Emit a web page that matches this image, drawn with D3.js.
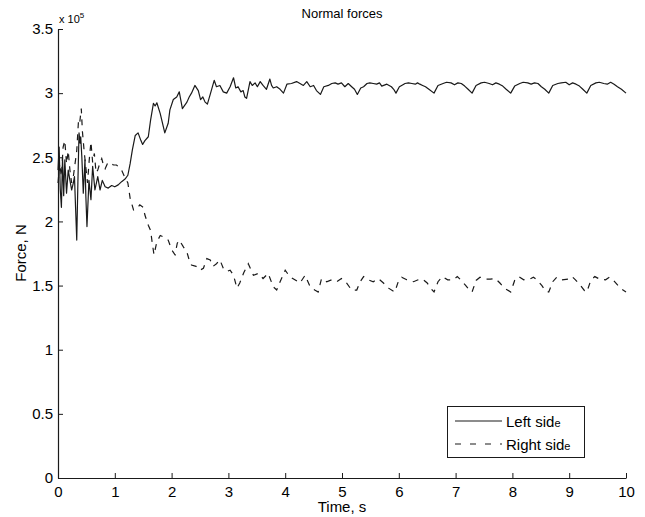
<!DOCTYPE html>
<html>
<head>
<meta charset="utf-8">
<script src="https://cdn.jsdelivr.net/npm/d3@7"></script>
<style>
  html, body { margin: 0; padding: 0; background: #fff; }
  svg { display: block; font-family: "Liberation Sans", Arial, Helvetica, sans-serif; }
</style>
</head>
<body>
<svg id="chart" width="645" height="517"></svg>
<script>
// ---- data (force in units of 1e5 N) ----
const chartTitle = "Normal forces";
const xLabel = "Time, s";
const yLabel = "Force, N";
const seriesNames = ["Left side", "Right side"];
const xTicks = [0, 1, 2, 3, 4, 5, 6, 7, 8, 9, 10];
const yTicks = [0, 0.5, 1, 1.5, 2, 2.5, 3, 3.5];

const leftSide = [
  [0.00,2.40],[0.02,2.58],[0.04,2.25],[0.06,2.11],[0.08,2.50],[0.10,2.20],[0.12,2.48],[0.15,2.22],
  [0.18,2.40],[0.21,2.32],[0.24,2.245],[0.27,2.30],[0.29,2.35],[0.31,2.10],[0.33,1.855],[0.35,2.30],
  [0.37,2.69],[0.39,2.61],[0.40,2.66],[0.42,2.50],[0.445,2.22],[0.475,2.48],[0.49,2.20],[0.51,1.96],
  [0.545,2.32],[0.58,2.17],[0.61,2.43],[0.65,2.245],[0.70,2.35],[0.74,2.245],[0.78,2.32],[0.83,2.27],
  [0.885,2.26],[0.945,2.28],[1.00,2.27],[1.06,2.285],[1.12,2.31],[1.18,2.33],[1.23,2.36],[1.27,2.45],
  [1.31,2.56],[1.36,2.67],[1.41,2.69],[1.46,2.63],[1.49,2.60],[1.53,2.63],[1.59,2.66],[1.63,2.79],
  [1.68,2.92],[1.71,2.90],[1.74,2.925],[1.80,2.84],[1.88,2.69],[1.94,2.765],[1.97,2.87],[2.03,2.95],
  [2.09,2.97],[2.135,3.01],[2.19,2.88],[2.27,2.93],[2.31,2.97],[2.35,3.00],[2.41,3.06],[2.47,3.02],
  [2.51,2.95],[2.55,2.97],[2.59,2.93],[2.63,2.915],[2.68,2.99],[2.75,3.10],[2.79,3.05],[2.85,3.06],
  [2.91,3.01],[2.97,3.00],[3.03,3.05],[3.09,3.12],[3.13,3.04],[3.17,3.05],[3.22,3.01],[3.26,3.02],
  [3.29,2.97],[3.32,2.96],[3.38,3.09],[3.42,3.06],[3.47,3.08],[3.51,3.05],[3.56,3.09],[3.61,3.06],
  [3.67,3.03],[3.73,3.11],[3.76,3.06],[3.79,3.04],[3.85,3.05],[3.91,3.03],[3.97,3.00],[4.03,3.07],
  [4.11,3.075],[4.20,3.09],[4.26,3.075],[4.32,3.06],[4.38,3.09],[4.44,3.05],[4.50,3.06],[4.55,3.02],
  [4.62,2.99],[4.68,3.05],[4.76,3.06],[4.82,3.075],[4.88,3.08],[4.93,3.07],[4.99,3.08],[5.05,3.05],
  [5.11,3.075],[5.17,3.05],[5.22,3.03],[5.27,2.99],[5.33,3.04],[5.38,3.05],[5.44,3.075],[5.49,3.08],
  [5.55,3.075],[5.61,3.07],[5.66,3.08],[5.70,3.055],[5.79,3.07],[5.87,3.05],[5.91,3.03],[5.95,3.00],
  [6.01,3.05],[6.05,3.06],[6.11,3.075],[6.17,3.08],[6.23,3.075],[6.29,3.07],[6.33,3.08],[6.37,3.07],
  [6.42,3.06],[6.47,3.05],[6.53,3.03],[6.62,3.00],
  [6.69,3.06],[6.78,3.075],[6.84,3.085],[6.92,3.08],[6.98,3.065],[7.04,3.08],[7.10,3.075],[7.16,3.055],[7.22,3.03],[7.29,3.00],
  [7.36,3.06],[7.45,3.08],[7.51,3.085],[7.59,3.075],[7.65,3.065],[7.71,3.08],[7.77,3.07],[7.83,3.055],[7.89,3.03],[7.97,3.00],
  [8.04,3.055],[8.13,3.075],[8.19,3.085],[8.27,3.08],[8.33,3.07],[8.39,3.08],[8.45,3.075],[8.51,3.05],[8.57,3.03],[8.64,3.00],
  [8.71,3.06],[8.80,3.075],[8.86,3.08],[8.94,3.085],[9.00,3.065],[9.06,3.08],[9.12,3.07],[9.18,3.055],[9.24,3.03],[9.31,3.00],
  [9.38,3.06],[9.47,3.08],[9.53,3.085],[9.61,3.075],[9.67,3.07],[9.73,3.085],[9.79,3.07],[9.85,3.05],[9.92,3.03],[10.0,3.00]
];

const rightSide = [
  [0.00,2.30],[0.03,2.45],[0.06,2.35],[0.09,2.58],[0.12,2.63],[0.15,2.45],[0.18,2.55],[0.21,2.40],
  [0.24,2.30],[0.27,2.35],[0.30,2.45],[0.33,2.55],[0.36,2.78],[0.38,2.76],[0.41,2.88],[0.43,2.70],
  [0.46,2.55],[0.49,2.42],[0.52,2.30],[0.55,2.48],[0.58,2.62],[0.61,2.46],[0.64,2.53],[0.67,2.38],
  [0.70,2.40],[0.74,2.46],[0.77,2.49],[0.80,2.44],[0.83,2.41],[0.88,2.46],[0.93,2.45],[0.98,2.44],
  [1.03,2.44],[1.08,2.42],[1.12,2.40],[1.17,2.35],[1.23,2.30],[1.27,2.18],[1.33,2.09],[1.39,2.10],
  [1.44,2.13],[1.50,2.11],[1.53,2.05],[1.59,1.97],[1.63,1.93],[1.66,1.83],[1.69,1.74],[1.74,1.84],
  [1.80,1.89],[1.85,1.88],[1.94,1.855],[2.00,1.78],[2.06,1.74],[2.10,1.83],[2.135,1.855],[2.21,1.80],
  [2.27,1.76],[2.31,1.70],[2.35,1.66],[2.43,1.65],[2.50,1.62],[2.56,1.635],[2.62,1.71],[2.68,1.70],
  [2.73,1.65],[2.79,1.67],[2.85,1.70],[2.91,1.635],[2.97,1.61],[3.03,1.62],[3.09,1.58],[3.15,1.48],
  [3.20,1.52],[3.27,1.60],[3.35,1.67],[3.44,1.58],[3.53,1.595],[3.61,1.555],[3.70,1.595],[3.79,1.49],
  [3.85,1.465],[3.91,1.53],[4.00,1.62],[4.08,1.57],[4.17,1.545],[4.26,1.52],[4.35,1.58],[4.44,1.49],
  [4.52,1.465],[4.58,1.45],[4.64,1.555],[4.73,1.53],[4.82,1.545],[4.91,1.53],[4.99,1.555],[5.08,1.52],
  [5.17,1.465],[5.26,1.465],[5.32,1.53],[5.38,1.57],[5.46,1.545],[5.55,1.53],[5.64,1.555],[5.73,1.52],
  [5.82,1.48],[5.93,1.45],[5.99,1.53],[6.05,1.565],[6.14,1.545],[6.26,1.53],[6.34,1.545],[6.42,1.55],
  [6.50,1.52],[6.56,1.48],[6.62,1.45],
  [6.69,1.53],[6.77,1.57],[6.86,1.545],[6.96,1.545],[7.03,1.57],[7.09,1.545],[7.18,1.50],[7.25,1.46],[7.29,1.45],
  [7.36,1.54],[7.43,1.565],[7.52,1.55],[7.61,1.55],[7.70,1.555],[7.78,1.52],[7.86,1.48],[7.97,1.45],
  [8.04,1.54],[8.11,1.57],[8.20,1.545],[8.30,1.55],[8.37,1.565],[8.43,1.545],[8.52,1.50],[8.58,1.46],[8.64,1.45],
  [8.71,1.53],[8.78,1.565],[8.87,1.545],[8.98,1.55],[9.05,1.57],[9.11,1.545],[9.20,1.50],[9.27,1.46],[9.31,1.45],
  [9.38,1.54],[9.45,1.57],[9.54,1.55],[9.64,1.545],[9.71,1.565],[9.78,1.54],[9.86,1.50],[9.93,1.47],[10.0,1.45]
];

// ---- drawing ----
const svg = d3.select("#chart");
const W = 645, H = 517;
const m = { left: 58, right: 626, top: 29, bottom: 478 };
svg.append("rect").attr("width", W).attr("height", H).attr("fill", "#fff");

const x = d3.scaleLinear().domain([0, 10]).range([m.left, m.right]);
const y = d3.scaleLinear().domain([0, 3.5]).range([m.bottom, m.top]);

const ink = "#1a1a1a";

const xAxis = svg.append("g")
  .attr("transform", `translate(0,${m.bottom})`)
  .call(d3.axisBottom(x).tickValues(xTicks).tickFormat(d3.format("d"))
    .tickSizeInner(-5).tickSizeOuter(0).tickPadding(8));
const yAxis = svg.append("g")
  .attr("transform", `translate(${m.left},0)`)
  .call(d3.axisLeft(y).tickValues(yTicks).tickFormat(d => String(d))
    .tickSizeInner(-5).tickSizeOuter(0).tickPadding(5));

[xAxis, yAxis].forEach(g => {
  g.select(".domain").attr("stroke", ink).attr("stroke-width", 1.2);
  g.selectAll(".tick line").attr("stroke", ink).attr("stroke-width", 1);
  g.selectAll(".tick text").attr("fill", "#000")
    .style("font-size", "15px").style("font-family", "'Liberation Sans', Arial, sans-serif");
});

// exponent label
const expo = svg.append("text").attr("x", 59).attr("y", 23)
  .style("font-size", "11px").attr("fill", "#000");
expo.append("tspan").text("x 10");
expo.append("tspan").attr("dy", -5).style("font-size", "8px").text("5");

// title and axis labels
svg.append("text").attr("x", 342).attr("y", 18).attr("text-anchor", "middle")
  .style("font-size", "13px").attr("fill", "#000").text(chartTitle);
svg.append("text").attr("x", 342).attr("y", 512).attr("text-anchor", "middle")
  .style("font-size", "15px").attr("fill", "#000").text(xLabel);
svg.append("text").attr("transform", "translate(26,253) rotate(-90)").attr("text-anchor", "middle")
  .style("font-size", "15px").attr("fill", "#000").text(yLabel);

// lines
const line = d3.line().x(d => x(d[0])).y(d => y(d[1]));
svg.append("path").datum(leftSide).attr("d", line)
  .attr("fill", "none").attr("stroke", ink).attr("stroke-width", 1.2).attr("stroke-linejoin", "round");
svg.append("path").datum(rightSide).attr("d", line)
  .attr("fill", "none").attr("stroke", ink).attr("stroke-width", 1.2)
  .attr("stroke-dasharray", "6,6");

// legend
const lg = svg.append("g");
lg.append("rect").attr("x", 447.5).attr("y", 406.5).attr("width", 137).attr("height", 51)
  .attr("fill", "#fff").attr("stroke", ink).attr("stroke-width", 1);
const rows = [{ name: seriesNames[0], dash: null, yy: 421 }, { name: seriesNames[1], dash: "6,9", yy: 444 }];
rows.forEach(r => {
  lg.append("line").attr("x1", 455).attr("x2", 502).attr("y1", r.yy).attr("y2", r.yy)
    .attr("stroke", ink).attr("stroke-width", 1.1).attr("stroke-dasharray", r.dash);
  const t = lg.append("text").attr("x", 506).attr("y", r.yy + 5.5)
    .style("font-size", "15px").attr("fill", "#000");
  t.append("tspan").text(r.name.slice(0, -1));
  t.append("tspan").style("font-size", "11px").text(r.name.slice(-1));
});
</script>
</body>
</html>
